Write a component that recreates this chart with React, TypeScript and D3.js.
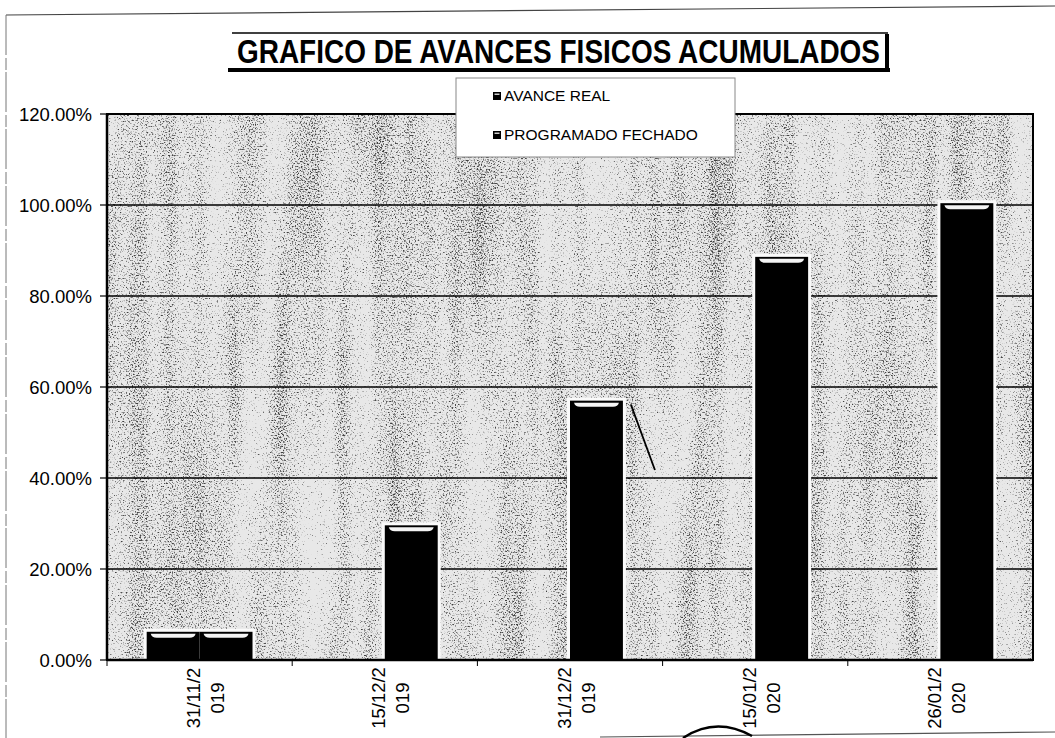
import React from 'react'
import * as d3 from 'd3'

// values (percent)
const categories = ['31/11/2019', '15/12/2019', '31/12/2019', '15/01/2020', '26/01/2020']
const tickLine1 = ['31/11/2', '15/12/2', '31/12/2', '15/01/2', '26/01/2']
const tickLine2 = ['019', '019', '019', '020', '020']
const avanceReal = [6.2, null, null, null, null]
const programado = [6.2, 29.6, 57.0, 88.6, 100.4]
const seriesNames = ['AVANCE REAL', 'PROGRAMADO FECHADO']
const yTicks = [0, 20, 40, 60, 80, 100, 120]

const W = 1055
const H = 738
const plot = { left: 107, right: 1033, top: 114, bottom: 660 }

export default function App() {
  const x = d3.scaleBand().domain(categories).range([plot.left, plot.right])
  const y = d3.scaleLinear().domain([0, 120]).range([plot.bottom, plot.top])
  const bw = x.bandwidth() / 3.5 // excel gap width 150%
  const series = [avanceReal, programado]

  const bars: any[] = []
  series.forEach((vals, si) => {
    vals.forEach((v, i) => {
      if (v == null) return
      const cx = x(categories[i])! + x.bandwidth() / 2
      bars.push({ x0: cx - bw + si * bw, top: y(v), key: si + '-' + i })
    })
  })

  // little leader line next to the 31/12 bar
  const lead = bars.find(b => b.key === '1-2')

  return (
    <svg width={W} height={H} style={{ position: 'absolute', left: 0, top: 0, background: '#fff' }}
      fontFamily="Arial, 'Liberation Sans', sans-serif">
      <defs>
        <filter id="grain" x="0" y="0" width="100%" height="100%" colorInterpolationFilters="sRGB">
          <feTurbulence type="fractalNoise" baseFrequency="0.65" numOctaves="2" seed="7" result="f0" />
          <feColorMatrix in="f0" type="matrix" values="1 0 0 0 0  0 1 0 0 0  0 0 1 0 0  0 0 0 0 1" result="fine" />
          <feTurbulence type="fractalNoise" baseFrequency="0.04 0.003" numOctaves="2" seed="3" result="s0" />
          <feColorMatrix in="s0" type="matrix" values="1 0 0 0 0  0 1 0 0 0  0 0 1 0 0  0 0 0 0 1" result="streak" />
          <feComposite in="fine" in2="streak" operator="arithmetic" k1="0" k2="1" k3="0.4" k4="-0.2" result="mix" />
          <feColorMatrix in="mix" type="matrix" values="0 0 0 0 0.25  0 0 0 0 0.25  0 0 0 0 0.25  -4 0 0 0 1.8" />
        </filter>
      </defs>

      {/* page frame from the scan */}
      <line x1={6} y1={15} x2={W} y2={6} stroke="#444" strokeWidth={1.2} />
      <line x1={6} y1={15} x2={6} y2={H} stroke="#777" strokeWidth={1} strokeDasharray="40 3 12 2" />
      <line x1={600} y1={737} x2={W} y2={732} stroke="#555" strokeWidth={1.2} />
      <path d="M683,738 Q716,716 752,736" fill="none" stroke="#000" strokeWidth={2.5} />

      {/* title */}
      <line x1={232} y1={33} x2={888} y2={33} stroke="#000" strokeWidth={1.5} />
      <text x={237} y={63} fontSize={33} fontWeight="bold" textLength={643} lengthAdjust="spacingAndGlyphs">
        GRAFICO DE AVANCES FISICOS ACUMULADOS
      </text>
      <line x1={228} y1={70} x2={890} y2={70} stroke="#000" strokeWidth={4} />
      <line x1={887} y1={34} x2={887} y2={72} stroke="#000" strokeWidth={4} />

      {/* plot background */}
      <rect x={plot.left} y={plot.top} width={plot.right - plot.left} height={plot.bottom - plot.top} fill="#e8e8e8" />
      <rect x={plot.left} y={plot.top} width={plot.right - plot.left} height={plot.bottom - plot.top} filter="url(#grain)" />

      {yTicks.map(t => (
        <g key={t}>
          <line x1={plot.left} x2={plot.right} y1={y(t)} y2={y(t)} stroke="#000" strokeWidth={1.6} />
          <line x1={plot.left - 7} x2={plot.left} y1={y(t)} y2={y(t)} stroke="#000" strokeWidth={1.2} />
          <text x={92} y={y(t)} dy="0.36em" textAnchor="end" fontSize={18.5}>{t.toFixed(2) + '%'}</text>
        </g>
      ))}

      {bars.map(b => (
        <rect key={'h' + b.key} x={b.x0 - 3} y={b.top - 3} width={bw + 6} height={plot.bottom - b.top + 3} fill="#fafafa" />
      ))}
      {bars.map(b => (
        <g key={b.key}>
          <rect x={b.x0} y={b.top} width={bw} height={plot.bottom - b.top} fill="#000" />
          <path
            d={`M${b.x0 + 4},${b.top + 2} L${b.x0 + bw - 4},${b.top + 2} Q${b.x0 + bw - 5},${b.top + 6} ${b.x0 + bw - 10},${b.top + 6} L${b.x0 + 10},${b.top + 6} Q${b.x0 + 5},${b.top + 6} ${b.x0 + 4},${b.top + 2} Z`}
            fill="#f4f4f4"
          />
        </g>
      ))}
      {lead && (
        <line x1={lead.x0 + bw + 8} y1={lead.top + 4} x2={lead.x0 + bw + 32} y2={y(40) - 8} stroke="#000" strokeWidth={1.8} />
      )}

      {/* plot border + axes */}
      <rect x={plot.left} y={plot.top} width={plot.right - plot.left} height={plot.bottom - plot.top} fill="none" stroke="#000" strokeWidth={2} />
      <line x1={plot.left} x2={plot.left} y1={plot.top} y2={plot.bottom} stroke="#000" strokeWidth={2.5} />
      <line x1={plot.left} x2={plot.right} y1={plot.bottom} y2={plot.bottom} stroke="#000" strokeWidth={2.5} />

      {categories.map(c => (
        <line key={'t' + c} x1={x(c)!} x2={x(c)!} y1={plot.bottom} y2={plot.bottom + 6} stroke="#000" strokeWidth={1} />
      ))}
      {categories.map((c, i) => {
        const cx = x(c)! + x.bandwidth() / 2
        return (
          <g key={'l' + c} fontSize={18.5}>
            <text transform={`translate(${cx - 6},698) rotate(-90)`} textAnchor="middle" dy="0.36em">{tickLine1[i]}</text>
            <text transform={`translate(${cx + 18},698) rotate(-90)`} textAnchor="middle" dy="0.36em">{tickLine2[i]}</text>
          </g>
        )
      })}

      {/* legend */}
      <rect x={456} y={78} width={279} height={79} fill="#fff" stroke="#888" strokeWidth={1} />
      {seriesNames.map((s, i) => (
        <g key={s}>
          <rect x={493} y={92 + i * 39} width={8} height={8} fill="#000" />
          <rect x={494.5} y={93.5 + i * 39} width={5} height={1.5} fill="#ccc" />
          <text x={504} y={101 + i * 39} fontSize={15.5}>{s}</text>
        </g>
      ))}
    </svg>
  )
}
